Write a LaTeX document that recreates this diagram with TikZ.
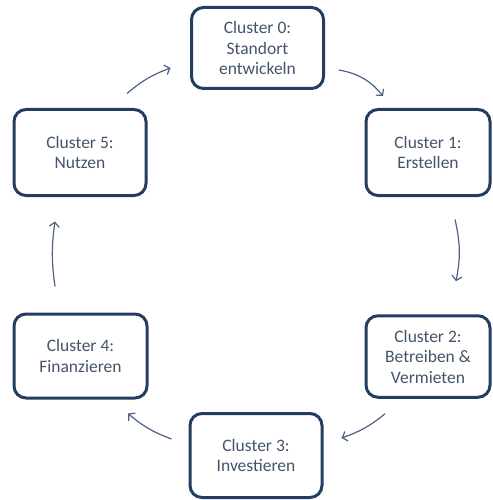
\documentclass[tikz,border=0pt]{standalone}
\usepackage{fontspec}
\setmainfont{Carlito}
\usepackage{tikz}
\usetikzlibrary{arrows.meta}
\definecolor{boxnavy}{RGB}{36,62,98}
\definecolor{textgray}{RGB}{68,84,106}
\definecolor{arrowblue}{RGB}{78,96,130}
\tikzset{cluster/.style={rectangle, rounded corners=12pt, draw=boxnavy, line width=3pt, fill=white, text=textgray, align=center, inner sep=0pt, font=\fontsize{17.5}{20.5}\selectfont}}
\tikzset{flow/.style={-{Straight Barb[length=4.5pt,width=10pt]}, draw=arrowblue, line width=1.2pt}}
\newcommand{\wide}{132pt}

\begin{document}
\begin{tikzpicture}[x=1pt, y=1pt]

  \useasboundingbox (0,0) rectangle (492,-500);

  % --- the six clusters ---
  \node[cluster, minimum width=\wide, minimum height=81pt] (c0) at (257.5,-48) {Cluster 0:\\Standort\\entwickeln};
  \node[cluster, minimum width=124pt, minimum height=86pt] (c1) at (428,-152.5) {Cluster 1:\\Erstellen};
  \node[cluster, minimum width=124pt, minimum height=81.5pt] (c2) at (428,-356.5) {Cluster 2:\\Betreiben \&\\Vermieten};
  \node[cluster, minimum width=\wide, minimum height=84pt] (c3) at (256,-455.5) {Cluster 3:\\Investieren};
  \node[cluster, minimum width=133pt, minimum height=84pt] (c4) at (80.5,-356) {Cluster 4:\\Finanzieren};
  \node[cluster, minimum width=\wide, minimum height=86pt] (c5) at (80,-152.5) {Cluster 5:\\Nutzen};

  % --- cycle arrows ---
  \draw[flow] ([xshift=14pt,yshift=-22pt]c0.east) to[bend left=20] ([xshift=-45pt,yshift=12pt]c1.north);
  \draw[flow] ([xshift=27pt,yshift=-22.5pt]c1.south) to[bend left=12] ([xshift=28pt,yshift=33pt]c2.north);
  \draw[flow] ([xshift=-43pt,yshift=-15pt]c2.south) to[bend left=10] ([xshift=18pt,yshift=17.5pt]c3.east);
  \draw[flow] ([xshift=-17pt,yshift=16.5pt]c3.west) to[bend left=10] ([xshift=47.5pt,yshift=-14pt]c4.south);
  \draw[flow] ([xshift=-25.5pt,yshift=26pt]c4.north) to[bend left=8] ([xshift=-25pt,yshift=-24.5pt]c5.south);
  \draw[flow] ([xshift=47pt,yshift=14.5pt]c5.north) to[bend left=10] ([xshift=-19.5pt,yshift=-20pt]c0.west);

\end{tikzpicture}
\end{document}
